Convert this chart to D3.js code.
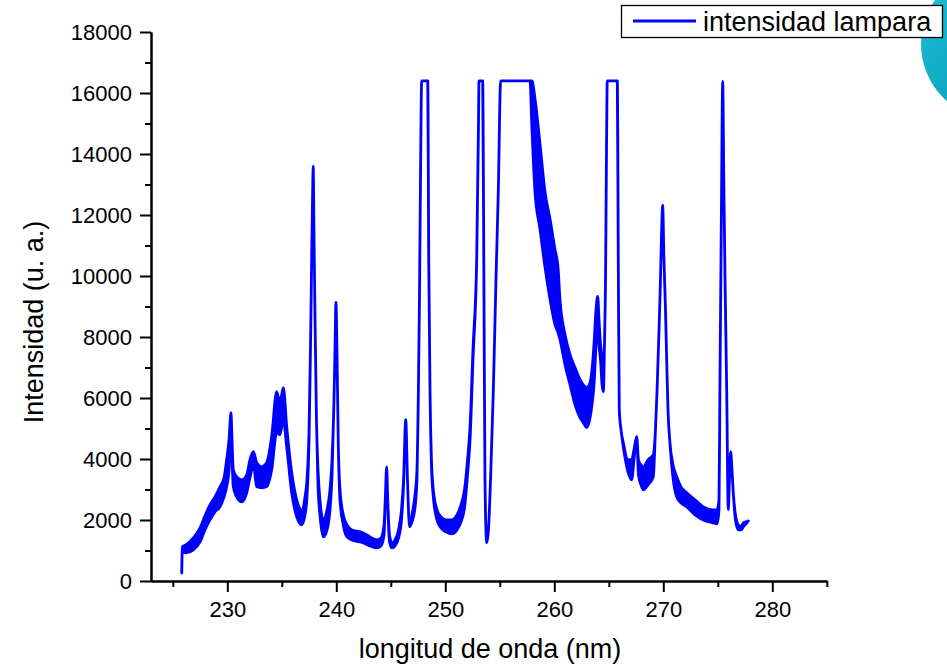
<!DOCTYPE html>
<html>
<head>
<meta charset="utf-8">
<script src="https://cdn.jsdelivr.net/npm/d3@7"></script>
<style>
  html, body { margin: 0; padding: 0; background: #fff; }
  svg { display: block; font-family: "Liberation Sans", Arial, sans-serif; }
</style>
</head>
<body>
<svg id="grafico" width="947" height="667"></svg>
<script>
// longitud de onda (nm) y envolventes superior / inferior de la intensidad (la señal oscila entre ambas)
const longitud = [
  225.82, 225.87, 226.21, 226.88, 227.50, 227.95, 228.41, 228.87, 229.33, 229.70,
  229.94, 230.16, 230.34, 230.43, 230.55, 230.86, 231.32, 231.78, 232.08, 232.39,
  232.70, 233.16, 233.61, 234.07, 234.53, 234.83, 235.14, 235.45, 235.91, 236.37,
  236.83, 237.13, 237.31, 237.50, 237.63, 237.74, 237.82, 237.88, 237.95, 238.05,
  238.18, 238.32, 238.50, 238.81, 239.15, 239.42, 239.61, 239.79, 239.88, 239.97,
  240.06, 240.18, 240.34, 240.64, 240.98, 241.44, 242.48, 243.09, 243.71, 244.10,
  244.38, 244.51, 244.62, 244.72, 244.88, 245.11, 245.39, 245.71, 245.98, 246.17,
  246.37, 246.53, 246.72, 246.94, 247.22, 247.40, 247.52, 247.63, 247.74, 247.83,
  248.39, 248.48, 248.60, 248.73, 248.90, 249.24, 249.61, 250.06, 250.59, 251.07,
  251.44, 251.76, 252.04, 252.27, 252.54, 252.88, 253.05, 253.09, 253.43, 253.55,
  253.64, 253.80, 253.96, 254.15, 254.40, 254.65, 254.86, 255.08, 257.77, 257.95,
  258.23, 258.69, 259.15, 259.61, 260.06, 260.34, 260.52, 260.98, 261.44, 261.90,
  262.36, 262.72, 262.97, 263.28, 263.46, 263.64, 263.83, 263.98, 264.10, 264.24,
  264.38, 264.50, 264.61, 264.70, 264.79, 264.86, 265.78, 265.87, 265.96, 266.12,
  266.33, 266.76, 267.10, 267.31, 267.56, 267.72, 267.95, 268.17, 268.60, 269.08,
  269.28, 269.42, 269.61, 269.74, 269.85, 269.94, 270.06, 270.20, 270.31, 270.43,
  270.61, 270.89, 271.23, 271.62, 272.15, 272.91, 273.67, 274.59, 274.93, 275.11,
  275.20, 275.34, 275.45, 275.55, 275.66, 275.82, 275.96, 276.07, 276.18, 276.30,
  276.42, 276.62, 276.88, 277.13, 277.34, 277.59, 277.80];
const intensidadSup = [
  263, 1117, 1183, 1413, 1741, 2135, 2497, 2759, 3088, 3384,
  3975, 4632, 5519, 4632, 3646, 3416, 3318, 3482, 3975, 4238,
  3876, 3745, 3876, 4730, 6209, 5847, 6340, 5059, 3548, 2661,
  2332, 2759, 3318, 4960, 7588, 10545, 12516, 13600, 11530, 8574,
  5289, 3646, 2661, 2004, 2332, 2989, 3975, 5946, 7588, 9132,
  7588, 4533, 2989, 2168, 1840, 1675, 1577, 1445, 1347, 1413,
  1840, 2825, 3745, 2661, 1511, 1248, 1347, 1675, 2332, 3318,
  5289, 3318, 1774, 2168, 2825, 3646, 5946, 9231, 13830, 16400,
  16400, 10545, 6176, 3975, 2989, 2332, 2102, 2004, 2004, 2168,
  2497, 2989, 3975, 5059, 7588, 10545, 15144, 16400, 16400, 9231,
  3318, 1248, 1675, 3318, 6176, 9888, 12746, 16400, 16400, 16400,
  15801, 14323, 12746, 11859, 10873, 10282, 9231, 8081, 7424, 6997,
  6603, 6406, 6340, 6504, 6931, 7753, 8902, 9329, 8574, 7753,
  7260, 6209, 7917, 9888, 14158, 16400, 16400, 10545, 5617, 4960,
  4533, 3975, 3975, 4303, 4730, 3975, 3811, 3745, 3975, 4139,
  4960, 6176, 8245, 9888, 11530, 12319, 10545, 8902, 7260, 5617,
  4533, 3811, 3416, 3088, 2891, 2661, 2431, 2332, 2332, 2661,
  6603, 12516, 16380, 13173, 9986, 6176, 2332, 3318, 4238, 3646,
  2891, 2168, 1840, 1774, 1905, 1938, 1971];
const intensidadInf = [
  263, 953, 920, 1018, 1281, 1675, 2004, 2267, 2431, 2759,
  3088, 3646, 5519, 4139, 3088, 2759, 2595, 2891, 3384, 3811,
  3088, 3055, 3088, 3646, 4862, 4796, 5289, 4402, 2891, 2102,
  1840, 2168, 2759, 4632, 7588, 10545, 12516, 13600, 11530, 8574,
  5289, 3154, 2168, 1445, 1675, 2332, 3482, 5946, 7588, 9132,
  7588, 4533, 2661, 1840, 1445, 1347, 1248, 1150, 1084, 1150,
  1511, 2825, 3745, 2497, 1281, 1084, 1150, 1413, 2004, 3154,
  5289, 3318, 1774, 1938, 2398, 3318, 5946, 9231, 13830, 16400,
  16400, 10545, 6176, 3811, 2759, 2004, 1741, 1610, 1544, 1675,
  1938, 2398, 3482, 4632, 7260, 10545, 15144, 16400, 16400, 9231,
  3318, 1248, 1675, 3318, 6176, 9888, 12746, 16400, 16400, 14815,
  12746, 11530, 10282, 9231, 8410, 8147, 7917, 7096, 6439, 5782,
  5355, 5157, 5026, 5355, 5782, 6439, 7753, 8574, 7753, 7260,
  6439, 6209, 7917, 9888, 14158, 16400, 16400, 10545, 5617, 4960,
  4402, 3581, 3318, 3975, 4730, 3482, 3154, 2989, 3154, 3416,
  4960, 6176, 8245, 9888, 11530, 12319, 10545, 8902, 7260, 5617,
  4533, 3384, 2759, 2562, 2431, 2168, 2004, 1905, 1872, 2332,
  6603, 12516, 16380, 13173, 9986, 6176, 2332, 3318, 4238, 3646,
  2891, 2004, 1675, 1675, 1774, 1872, 1971];

const xMayores = [230, 240, 250, 260, 270, 280];
const xMenores = [225, 235, 245, 255, 265, 275, 285];
const yMayores = [0, 2000, 4000, 6000, 8000, 10000, 12000, 14000, 16000, 18000];
const yMenores = [1000, 3000, 5000, 7000, 9000, 11000, 13000, 15000, 17000];

const azul = "#0000ff";
const svg = d3.select("#grafico");

// circulo decorativo de la captura (esquina superior derecha)
const defs = svg.append("defs");
const grad = defs.append("linearGradient").attr("id", "teal")
  .attr("x1", 0).attr("y1", 0).attr("x2", 1).attr("y2", 1);
grad.append("stop").attr("offset", "0%").attr("stop-color", "#1ec0d8");
grad.append("stop").attr("offset", "100%").attr("stop-color", "#0094aa");
svg.append("circle").attr("cx", 997).attr("cy", 44).attr("r", 76).attr("fill", "url(#teal)");

const x = d3.scaleLinear().domain([223, 285]).range([151, 826.8]);
const y = d3.scaleLinear().domain([0, 18000]).range([581, 32]);

const datos = longitud.map((l, i) => ({l, sup: intensidadSup[i], inf: intensidadInf[i]}));

const area = d3.area()
  .curve(d3.curveMonotoneX)
  .x(d => x(d.l))
  .y0(d => y(d.inf))
  .y1(d => y(d.sup));

svg.append("path")
  .datum(datos)
  .attr("d", area)
  .attr("fill", azul)
  .attr("stroke", azul)
  .attr("stroke-width", 2.8)
  .attr("stroke-linejoin", "round");

function estiloEje(g) {
  g.select(".domain").attr("stroke", "#000").attr("stroke-width", 2);
  g.selectAll(".tick line").attr("stroke", "#000").attr("stroke-width", 2);
  g.selectAll("text").attr("fill", "#000")
    .style("font-size", "22px")
    .style("font-family", "'Liberation Sans', Arial, sans-serif");
}

// ticks menores (sin texto)
svg.append("g").attr("transform", "translate(0,581)")
  .call(d3.axisBottom(x).tickValues(xMenores).tickSize(6).tickFormat("").tickSizeOuter(0))
  .call(estiloEje);
svg.append("g").attr("transform", "translate(151,0)")
  .call(d3.axisLeft(y).tickValues(yMenores).tickSize(6).tickFormat("").tickSizeOuter(0))
  .call(estiloEje);

// ticks mayores
svg.append("g").attr("transform", "translate(0,581)")
  .call(d3.axisBottom(x).tickValues(xMayores).tickSize(11).tickPadding(9).tickSizeOuter(0))
  .call(estiloEje);
svg.append("g").attr("transform", "translate(151,0)")
  .call(d3.axisLeft(y).tickValues(yMayores).tickSize(11).tickPadding(8).tickSizeOuter(0).tickFormat(d3.format("d")))
  .call(estiloEje);

// titulos de ejes
svg.append("text")
  .attr("x", 490).attr("y", 658)
  .attr("text-anchor", "middle")
  .style("font-size", "27px")
  .text("longitud de onda (nm)");

svg.append("text")
  .attr("transform", "translate(43,322) rotate(-90)")
  .attr("text-anchor", "middle")
  .style("font-size", "27px")
  .text("Intensidad (u. a.)");

// leyenda
const ley = svg.append("g");
ley.append("rect")
  .attr("x", 621.5).attr("y", 5.5).attr("width", 321).attr("height", 32)
  .attr("fill", "#fff").attr("stroke", "#000").attr("stroke-width", 1.3);
ley.append("line")
  .attr("x1", 633).attr("x2", 696).attr("y1", 21).attr("y2", 21)
  .attr("stroke", azul).attr("stroke-width", 3);
ley.append("text")
  .attr("x", 703).attr("y", 31)
  .style("font-size", "27px")
  .text("intensidad lampara");
</script>
</body>
</html>
